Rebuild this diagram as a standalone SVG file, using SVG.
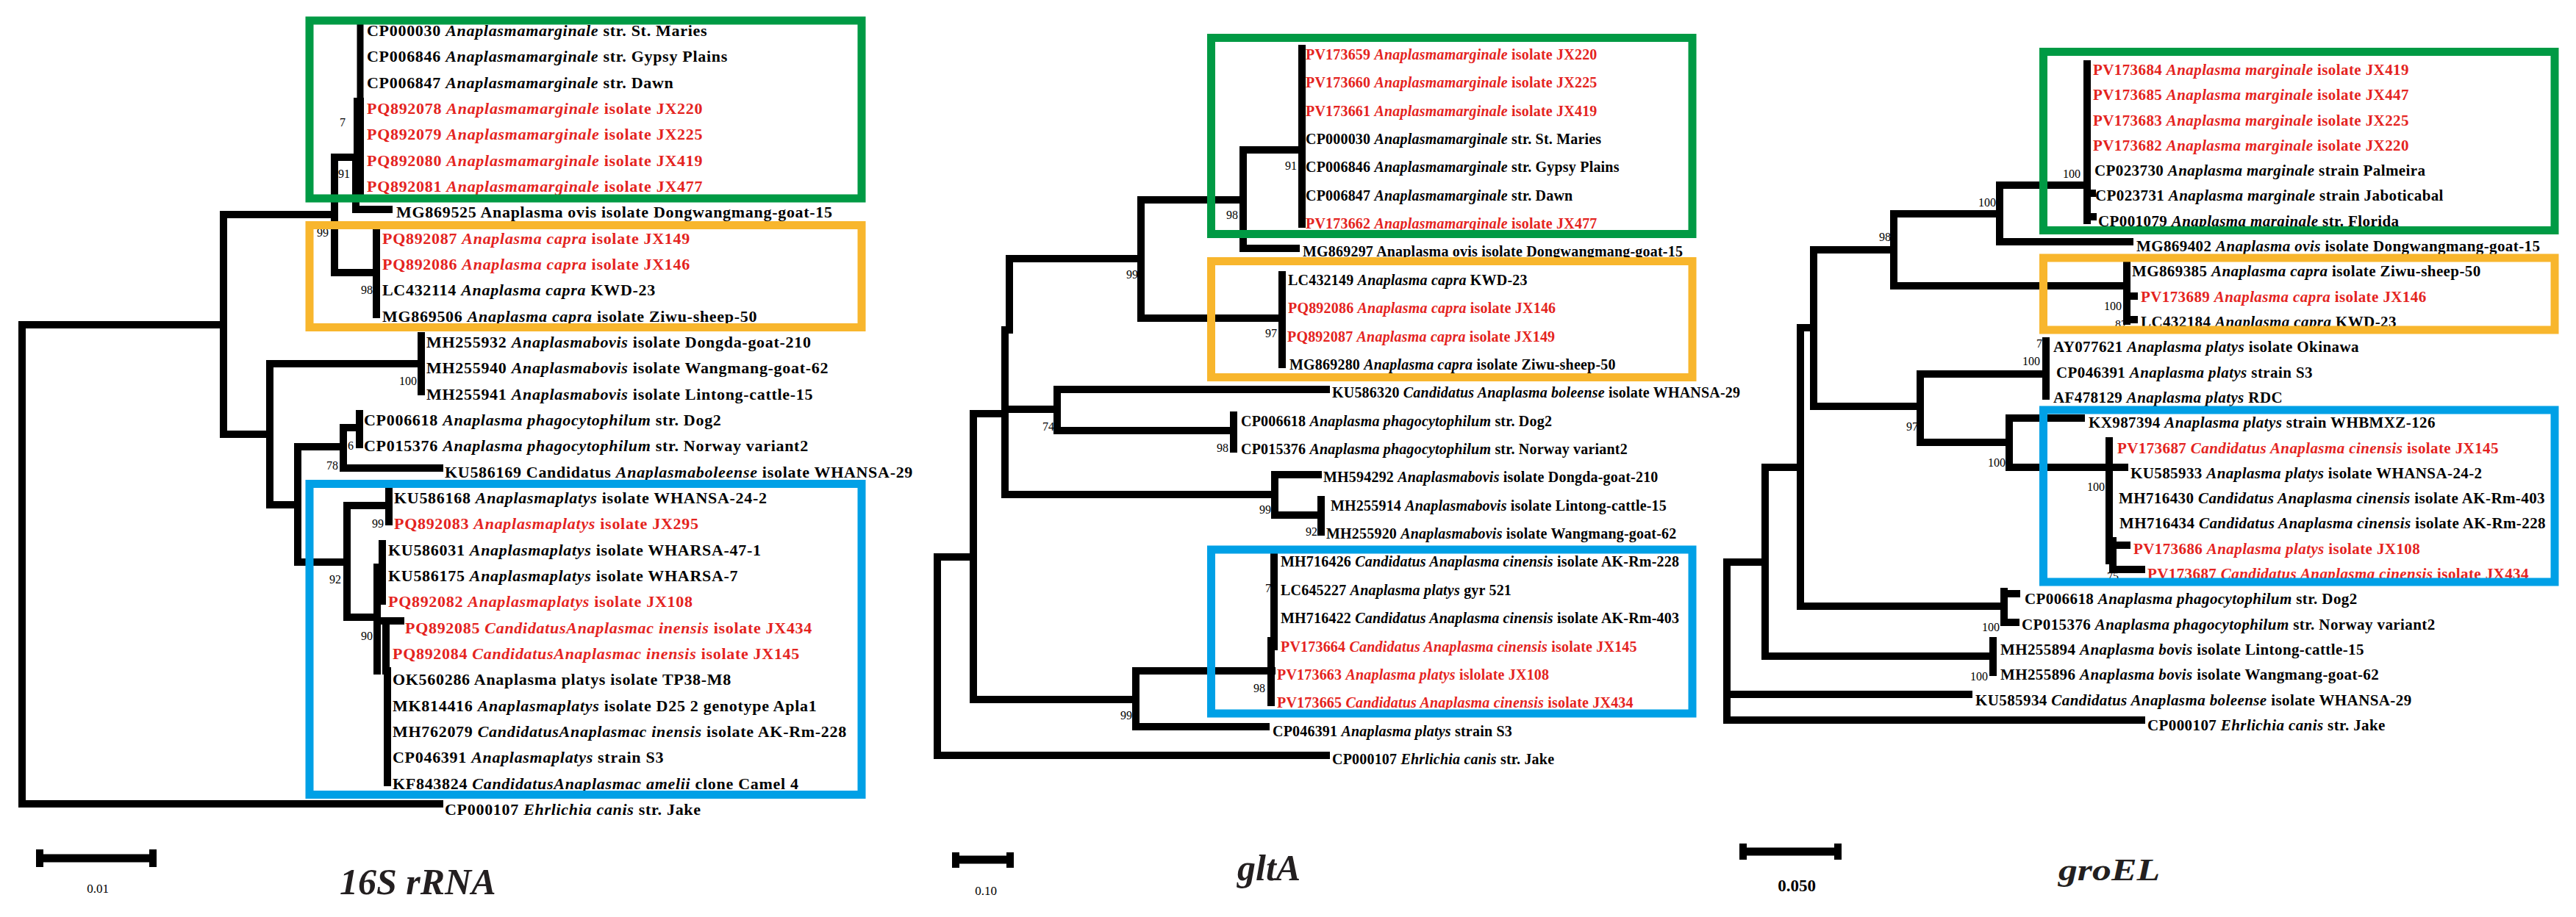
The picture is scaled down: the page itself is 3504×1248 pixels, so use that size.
<svg xmlns="http://www.w3.org/2000/svg" width="3504" height="1248" viewBox="0 0 3504 1248">
<style>
.t{font-family:"Liberation Serif","Times New Roman",serif;font-size:21px;font-weight:bold;letter-spacing:0.4px;fill:#000}
#tree1-leaves .t{font-size:22px;letter-spacing:0.7px}
#tree2-leaves .t{font-size:20px;letter-spacing:0.2px}
.r{fill:#e42320}
.i{font-style:italic}
.bs{font-family:"Liberation Serif","Times New Roman",serif;font-size:16px;fill:#000;text-anchor:end}
.br{stroke:#000;stroke-width:10;fill:none;stroke-linecap:square}
.sb{stroke:#000;fill:none;stroke-linecap:butt}
.box{fill:none;stroke-width:11}
.gr{stroke:#009a44}.or{stroke:#f8b62d}.bl{stroke:#00a0e6}
.ttl{font-family:"Liberation Serif","Times New Roman",serif;font-style:italic;font-weight:bold;fill:#231f20}
.sl{font-family:"Liberation Serif","Times New Roman",serif;fill:#000;text-anchor:middle}
</style>
<rect width="3504" height="1248" fill="#fff"/>

<g id="bootstrap">
<text class="bs" x="470" y="172">7</text>
<text class="bs" x="476" y="242">91</text>
<text class="bs" x="447" y="322">99</text>
<text class="bs" x="507" y="400">98</text>
<text class="bs" x="567" y="524">100</text>
<text class="bs" x="481" y="612">6</text>
<text class="bs" x="460" y="639">78</text>
<text class="bs" x="522" y="718">99</text>
<text class="bs" x="464" y="794">92</text>
<text class="bs" x="507" y="871">90</text>
<text class="bs" x="1764" y="231">91</text>
<text class="bs" x="1684" y="298">98</text>
<text class="bs" x="1548" y="379">99</text>
<text class="bs" x="1737" y="459">97</text>
<text class="bs" x="1434" y="586">74</text>
<text class="bs" x="1671" y="615">98</text>
<text class="bs" x="1729" y="699">99</text>
<text class="bs" x="1792" y="729">92</text>
<text class="bs" x="1729" y="806">7</text>
<text class="bs" x="1721" y="942">98</text>
<text class="bs" x="1540" y="979">99</text>
<text class="bs" x="2830" y="242">100</text>
<text class="bs" x="2715" y="281">100</text>
<text class="bs" x="2572" y="328">98</text>
<text class="bs" x="2886" y="422">100</text>
<text class="bs" x="2893" y="447">82</text>
<text class="bs" x="2786" y="473">73</text>
<text class="bs" x="2775" y="497">100</text>
<text class="bs" x="2609" y="586">97</text>
<text class="bs" x="2728" y="635">100</text>
<text class="bs" x="2863" y="668">100</text>
<text class="bs" x="2882" y="790">75</text>
<text class="bs" x="2720" y="859">100</text>
<text class="bs" x="2704" y="926">100</text>
</g>

<g id="connectors">
<path class="br" d="M30 442V1094M30 442H304M30 1094H598M304 292V591M304 292H455M304 591H367M455 214V371M455 214H484M455 371H512M484 214V285M484 285H529M512 316V428M367 495V687M367 495H573M367 687H405M573 457V533M405 608V765M405 608H467M405 765H472M467 582V637M467 582H489M467 637H598M489 563V605M472 688V840M472 688H529M472 840H512M529 668V710M520 740V818M513 772V913M513 845H545M525 845V913M527 913V1065"/>
<path class="br" style="stroke-width:14" d="M488 140V262"/>
<path class="br" style="stroke-width:9" d="M490 35V140"/>
<path class="br" d="M1275 758V1028M1275 758H1324M1275 1028H1804M1324 563V952M1324 563H1367M1324 952H1545M1367 449V673M1367 449H1373M1367 557H1438M1367 673H1734M1373 352V449M1373 352H1552M1552 272V433M1552 272H1691M1552 433H1744M1691 204V338M1691 204H1771M1691 338H1763M1771 66V305M1744 374V496M1438 530V586M1438 530H1804M1438 586H1678M1678 565V611M1734 646V701M1734 646H1793M1734 701H1797M1797 680V724M1545 913V989M1545 913H1730M1545 989H1722M1733 755V880M1729 872V956"/>
<path class="br" d="M2349 765V980M2349 765H2401M2349 945H2678M2349 980H2913M2401 636V893M2401 636H2449M2401 893H2711M2711 872V915M2449 446V825M2449 446H2467M2449 825H2726M2726 805V847M2726 808H2743M2726 847H2742M2467 340V553M2467 340H2576M2467 553H2612M2576 291V389M2576 291H2720M2576 389H2893M2720 252V329M2720 252H2838M2720 329H2897M2839 87V300M2839 263H2846M2839 295H2847M2893 358V437M2893 403H2903M2893 435H2903M2612 509V602M2612 509H2783M2612 602H2733M2783 464V539M2733 569V636M2733 569H2831M2733 636H2890M2869 600V763M2874 736V775M2874 742H2893M2874 775H2913"/>
</g>

<g id="tree1-leaves">
<g id="t1n0"><text class="t" x="499" y="49">CP000030 <tspan class="i">Anaplasmamarginale</tspan> str. St. Maries</text></g>
<g id="t1n1"><text class="t" x="499" y="84">CP006846 <tspan class="i">Anaplasmamarginale</tspan> str. Gypsy Plains</text></g>
<g id="t1n2"><text class="t" x="499" y="120">CP006847 <tspan class="i">Anaplasmamarginale</tspan> str. Dawn</text></g>
<g id="t1n3"><text class="t r" x="499" y="155">PQ892078 <tspan class="i">Anaplasmamarginale</tspan> isolate JX220</text></g>
<g id="t1n4"><text class="t r" x="499" y="190">PQ892079 <tspan class="i">Anaplasmamarginale</tspan> isolate JX225</text></g>
<g id="t1n5"><text class="t r" x="499" y="226">PQ892080 <tspan class="i">Anaplasmamarginale</tspan> isolate JX419</text></g>
<g id="t1n6"><text class="t r" x="499" y="261">PQ892081 <tspan class="i">Anaplasmamarginale</tspan> isolate JX477</text></g>
<g id="t1n7"><text class="t" x="539" y="296">MG869525 Anaplasma ovis isolate Dongwangmang-goat-15</text></g>
<g id="t1n8"><text class="t r" x="520" y="332">PQ892087 <tspan class="i">Anaplasma capra</tspan> isolate JX149</text></g>
<g id="t1n9"><text class="t r" x="520" y="367">PQ892086 <tspan class="i">Anaplasma capra</tspan> isolate JX146</text></g>
<g id="t1n10"><text class="t" x="520" y="402">LC432114 <tspan class="i">Anaplasma capra</tspan> KWD-23</text></g>
<g id="t1n11"><text class="t" x="520" y="438">MG869506 <tspan class="i">Anaplasma capra</tspan> isolate Ziwu-sheep-50</text></g>
<g id="t1n12"><text class="t" x="580" y="473">MH255932 <tspan class="i">Anaplasmabovis</tspan> isolate Dongda-goat-210</text></g>
<g id="t1n13"><text class="t" x="580" y="508">MH255940 <tspan class="i">Anaplasmabovis</tspan> isolate Wangmang-goat-62</text></g>
<g id="t1n14"><text class="t" x="580" y="544">MH255941 <tspan class="i">Anaplasmabovis</tspan> isolate Lintong-cattle-15</text></g>
<g id="t1n15"><text class="t" x="495" y="579">CP006618 <tspan class="i">Anaplasma phagocytophilum</tspan> str. Dog2</text></g>
<g id="t1n16"><text class="t" x="495" y="614">CP015376 <tspan class="i">Anaplasma phagocytophilum</tspan> str. Norway variant2</text></g>
<g id="t1n17"><text class="t" x="605" y="650">KU586169 Candidatus <tspan class="i">Anaplasmaboleense</tspan> isolate WHANSA-29</text></g>
<g id="t1n18"><text class="t" x="536" y="685">KU586168 <tspan class="i">Anaplasmaplatys</tspan> isolate WHANSA-24-2</text></g>
<g id="t1n19"><text class="t r" x="536" y="720">PQ892083 <tspan class="i">Anaplasmaplatys</tspan> isolate JX295</text></g>
<g id="t1n20"><text class="t" x="528" y="756">KU586031 <tspan class="i">Anaplasmaplatys</tspan> isolate WHARSA-47-1</text></g>
<g id="t1n21"><text class="t" x="528" y="791">KU586175 <tspan class="i">Anaplasmaplatys</tspan> isolate WHARSA-7</text></g>
<g id="t1n22"><text class="t r" x="528" y="826">PQ892082 <tspan class="i">Anaplasmaplatys</tspan> isolate JX108</text></g>
<g id="t1n23"><text class="t r" x="551" y="862">PQ892085 <tspan class="i">CandidatusAnaplasmac inensis</tspan> isolate JX434</text></g>
<g id="t1n24"><text class="t r" x="534" y="897">PQ892084 <tspan class="i">CandidatusAnaplasmac inensis</tspan> isolate JX145</text></g>
<g id="t1n25"><text class="t" x="534" y="932">OK560286 Anaplasma platys isolate TP38-M8</text></g>
<g id="t1n26"><text class="t" x="534" y="968">MK814416 <tspan class="i">Anaplasmaplatys</tspan> isolate D25 2 genotype Apla1</text></g>
<g id="t1n27"><text class="t" x="534" y="1003">MH762079 <tspan class="i">CandidatusAnaplasmac inensis</tspan> isolate AK-Rm-228</text></g>
<g id="t1n28"><text class="t" x="534" y="1038">CP046391 <tspan class="i">Anaplasmaplatys</tspan> strain S3</text></g>
<g id="t1n29"><text class="t" x="534" y="1074">KF843824 <tspan class="i">CandidatusAnaplasmac amelii</tspan> clone Camel 4</text></g>
<g id="t1n30"><text class="t" x="605" y="1109">CP000107 <tspan class="i">Ehrlichia canis</tspan> str. Jake</text></g>
</g>

<g id="tree2-leaves">
<g id="t2n0"><text class="t r" x="1776" y="81">PV173659 <tspan class="i">Anaplasmamarginale</tspan> isolate JX220</text></g>
<g id="t2n1"><text class="t r" x="1776" y="119">PV173660 <tspan class="i">Anaplasmamarginale</tspan> isolate JX225</text></g>
<g id="t2n2"><text class="t r" x="1776" y="158">PV173661 <tspan class="i">Anaplasmamarginale</tspan> isolate JX419</text></g>
<g id="t2n3"><text class="t" x="1776" y="196">CP000030 <tspan class="i">Anaplasmamarginale</tspan> str. St. Maries</text></g>
<g id="t2n4"><text class="t" x="1776" y="234">CP006846 <tspan class="i">Anaplasmamarginale</tspan> str. Gypsy Plains</text></g>
<g id="t2n5"><text class="t" x="1776" y="273">CP006847 <tspan class="i">Anaplasmamarginale</tspan> str. Dawn</text></g>
<g id="t2n6"><text class="t r" x="1776" y="311">PV173662 <tspan class="i">Anaplasmamarginale</tspan> isolate JX477</text></g>
<g id="t2n7"><text class="t" x="1772" y="349">MG869297 Anaplasma ovis isolate Dongwangmang-goat-15</text></g>
<g id="t2n8"><text class="t" x="1752" y="388">LC432149 <tspan class="i">Anaplasma capra</tspan> KWD-23</text></g>
<g id="t2n9"><text class="t r" x="1752" y="426">PQ892086 <tspan class="i">Anaplasma capra</tspan> isolate JX146</text></g>
<g id="t2n10"><text class="t r" x="1751" y="465">PQ892087 <tspan class="i">Anaplasma capra</tspan> isolate JX149</text></g>
<g id="t2n11"><text class="t" x="1754" y="503">MG869280 <tspan class="i">Anaplasma capra</tspan> isolate Ziwu-sheep-50</text></g>
<g id="t2n12"><text class="t" x="1812" y="541">KU586320 <tspan class="i">Candidatus Anaplasma boleense</tspan> isolate WHANSA-29</text></g>
<g id="t2n13"><text class="t" x="1688" y="580">CP006618 <tspan class="i">Anaplasma phagocytophilum</tspan> str. Dog2</text></g>
<g id="t2n14"><text class="t" x="1688" y="618">CP015376 <tspan class="i">Anaplasma phagocytophilum</tspan> str. Norway variant2</text></g>
<g id="t2n15"><text class="t" x="1800" y="656">MH594292 <tspan class="i">Anaplasmabovis</tspan> isolate Dongda-goat-210</text></g>
<g id="t2n16"><text class="t" x="1810" y="695">MH255914 <tspan class="i">Anaplasmabovis</tspan> isolate Lintong-cattle-15</text></g>
<g id="t2n17"><text class="t" x="1804" y="733">MH255920 <tspan class="i">Anaplasmabovis</tspan> isolate Wangmang-goat-62</text></g>
<g id="t2n18"><text class="t" x="1742" y="771">MH716426 <tspan class="i">Candidatus Anaplasma cinensis</tspan> isolate AK-Rm-228</text></g>
<g id="t2n19"><text class="t" x="1742" y="810">LC645227 <tspan class="i">Anaplasma platys</tspan> gyr 521</text></g>
<g id="t2n20"><text class="t" x="1742" y="848">MH716422 <tspan class="i">Candidatus Anaplasma cinensis</tspan> isolate AK-Rm-403</text></g>
<g id="t2n21"><text class="t r" x="1742" y="887">PV173664 <tspan class="i">Candidatus Anaplasma cinensis</tspan> isolate JX145</text></g>
<g id="t2n22"><text class="t r" x="1737" y="925">PV173663 <tspan class="i">Anaplasma platys</tspan> islolate JX108</text></g>
<g id="t2n23"><text class="t r" x="1737" y="963">PV173665 <tspan class="i">Candidatus Anaplasma cinensis</tspan> isolate JX434</text></g>
<g id="t2n24"><text class="t" x="1731" y="1002">CP046391 <tspan class="i">Anaplasma platys</tspan> strain S3</text></g>
<g id="t2n25"><text class="t" x="1812" y="1040">CP000107 <tspan class="i">Ehrlichia canis</tspan> str. Jake</text></g>
</g>

<g id="tree3-leaves">
<g id="t3n0"><text class="t r" x="2847" y="102">PV173684 <tspan class="i">Anaplasma marginale</tspan> isolate JX419</text></g>
<g id="t3n1"><text class="t r" x="2847" y="136">PV173685 <tspan class="i">Anaplasma marginale</tspan> isolate JX447</text></g>
<g id="t3n2"><text class="t r" x="2847" y="171">PV173683 <tspan class="i">Anaplasma marginale</tspan> isolate JX225</text></g>
<g id="t3n3"><text class="t r" x="2847" y="205">PV173682 <tspan class="i">Anaplasma marginale</tspan> isolate JX220</text></g>
<g id="t3n4"><text class="t" x="2849" y="239">CP023730 <tspan class="i">Anaplasma marginale</tspan> strain Palmeira</text></g>
<g id="t3n5"><text class="t" x="2850" y="273">CP023731 <tspan class="i">Anaplasma marginale</tspan> strain Jaboticabal</text></g>
<g id="t3n6"><text class="t" x="2854" y="308">CP001079 <tspan class="i">Anaplasma marginale</tspan> str. Florida</text></g>
<g id="t3n7"><text class="t" x="2906" y="342">MG869402 <tspan class="i">Anaplasma ovis</tspan> isolate Dongwangmang-goat-15</text></g>
<g id="t3n8"><text class="t" x="2900" y="376">MG869385 <tspan class="i">Anaplasma capra</tspan> isolate Ziwu-sheep-50</text></g>
<g id="t3n9"><text class="t r" x="2912" y="411">PV173689 <tspan class="i">Anaplasma capra</tspan> isolate JX146</text></g>
<g id="t3n10"><text class="t" x="2912" y="445">LC432184 <tspan class="i">Anaplasma capra</tspan> KWD-23</text></g>
<g id="t3n11"><text class="t" x="2793" y="479">AY077621 <tspan class="i">Anaplasma platys</tspan> isolate Okinawa</text></g>
<g id="t3n12"><text class="t" x="2797" y="514">CP046391 <tspan class="i">Anaplasma platys</tspan> strain S3</text></g>
<g id="t3n13"><text class="t" x="2793" y="548">AF478129 <tspan class="i">Anaplasma platys</tspan> RDC</text></g>
<g id="t3n14"><text class="t" x="2841" y="582">KX987394 <tspan class="i">Anaplasma platys</tspan> strain WHBMXZ-126</text></g>
<g id="t3n15"><text class="t r" x="2880" y="617">PV173687 <tspan class="i">Candidatus Anaplasma cinensis</tspan> isolate JX145</text></g>
<g id="t3n16"><text class="t" x="2898" y="651">KU585933 <tspan class="i">Anaplasma platys</tspan> isolate WHANSA-24-2</text></g>
<g id="t3n17"><text class="t" x="2882" y="685">MH716430 <tspan class="i">Candidatus Anaplasma cinensis</tspan> isolate AK-Rm-403</text></g>
<g id="t3n18"><text class="t" x="2883" y="719">MH716434 <tspan class="i">Candidatus Anaplasma cinensis</tspan> isolate AK-Rm-228</text></g>
<g id="t3n19"><text class="t r" x="2902" y="754">PV173686 <tspan class="i">Anaplasma platys</tspan> isolate JX108</text></g>
<g id="t3n20"><text class="t r" x="2921" y="788">PV173687 <tspan class="i">Candidatus Anaplasma cinensis</tspan> isolate JX434</text></g>
<g id="t3n21"><text class="t" x="2754" y="822">CP006618 <tspan class="i">Anaplasma phagocytophilum</tspan> str. Dog2</text></g>
<g id="t3n22"><text class="t" x="2750" y="857">CP015376 <tspan class="i">Anaplasma phagocytophilum</tspan> str. Norway variant2</text></g>
<g id="t3n23"><text class="t" x="2721" y="891">MH255894 <tspan class="i">Anaplasma bovis</tspan> isolate Lintong-cattle-15</text></g>
<g id="t3n24"><text class="t" x="2721" y="925">MH255896 <tspan class="i">Anaplasma bovis</tspan> isolate Wangmang-goat-62</text></g>
<g id="t3n25"><text class="t" x="2687" y="960">KU585934 <tspan class="i">Candidatus Anaplasma boleense</tspan> isolate WHANSA-29</text></g>
<g id="t3n26"><text class="t" x="2921" y="994">CP000107 <tspan class="i">Ehrlichia canis</tspan> str. Jake</text></g>
</g>

<g id="clade-boxes">
<rect class="box gr" x="421" y="28" width="751" height="242"/>
<rect class="box or" x="421" y="306.5" width="751" height="139"/>
<rect class="box bl" x="421" y="658.5" width="751" height="423"/>
<rect class="box gr" x="1647.5" y="51.5" width="654.5" height="267"/>
<rect class="box or" x="1647.5" y="355.5" width="654.5" height="158"/>
<rect class="box bl" x="1647.5" y="748" width="654.5" height="223"/>
<rect class="box gr" x="2779.5" y="70.5" width="695.5" height="243"/>
<rect class="box or" x="2779.5" y="351" width="695.5" height="98"/>
<rect class="box bl" x="2779.5" y="558" width="695.5" height="234"/>
</g>

<g id="scale-bars">
<path class="sb" stroke-width="11" d="M49 1168H213M1295 1170H1379M2366 1159H2505"/>
<path class="sb" stroke-width="10" d="M54 1156V1180M208 1156V1180M1300 1160V1181M1374 1160V1181M2371 1148V1170M2500 1148V1170"/>
<text class="sl" x="133" y="1215" font-size="17">0.01</text>
<text class="sl" x="1341" y="1218" font-size="17">0.10</text>
<text class="sl" x="2444" y="1213" font-size="23" font-weight="bold">0.050</text>
</g>

<g id="titles">
<text class="ttl" x="462" y="1217" font-size="50">16S rRNA</text>
<text class="ttl" x="1683" y="1198" font-size="50">gltA</text>
<text class="ttl" x="2800" y="1198" font-size="42" textLength="138" lengthAdjust="spacingAndGlyphs">groEL</text>
</g>
</svg>
